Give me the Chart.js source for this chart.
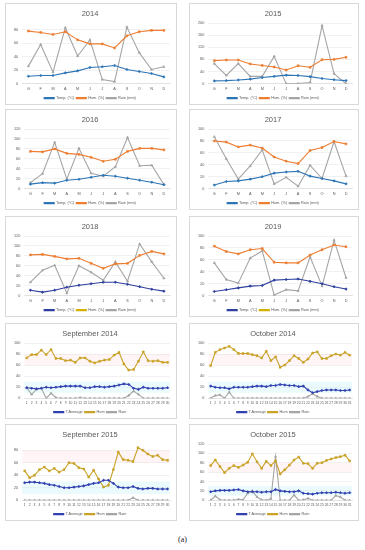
<!DOCTYPE html>
<html>
<head>
<meta charset="utf-8">
<script src="https://cdn.jsdelivr.net/npm/chart.js@4.4.0/dist/chart.umd.min.js"></script>
<style>
  body { margin: 0; background: #fff; width: 365px; height: 550px; position: relative; overflow: hidden; }
  .panel { position: absolute; border: 1px solid #d9d9d9; background: #fff; box-sizing: border-box; }
  .panel canvas { display: block; }
  #cap { position: absolute; left: 0; width: 365px; top: 535px; text-align: center; font: 8px "Liberation Serif", serif; color: #222; }
</style>
</head>
<body>
<div class="panel" id="p0"><canvas id="c0"></canvas></div>
<div class="panel" id="p1"><canvas id="c1"></canvas></div>
<div class="panel" id="p2"><canvas id="c2"></canvas></div>
<div class="panel" id="p3"><canvas id="c3"></canvas></div>
<div class="panel" id="p4"><canvas id="c4"></canvas></div>
<div class="panel" id="p5"><canvas id="c5"></canvas></div>
<div class="panel" id="p6"><canvas id="c6"></canvas></div>
<div class="panel" id="p7"><canvas id="c7"></canvas></div>
<div class="panel" id="p8"><canvas id="c8"></canvas></div>
<div class="panel" id="p9"><canvas id="c9"></canvas></div>
<div id="cap">(a)</div>
<script>
// month labels
const months = ["G", "F", "M", "A", "M", "J", "J", "A", "S", "O", "N", "D"];
const days30 = ["1","2","3","4","5","6","7","8","9","10","11","12","13","14","15","16","17","18","19","20","21","22","23","24","25","26","27","28","29","30"];
const days31 = ["1","2","3","4","5","6","7","8","9","10","11","12","13","14","15","16","17","18","19","20","21","22","23","24","25","26","27","28","29","30","31"];

// yearly series
const temp2014 = [11, 12, 12, 16, 19, 24, 25, 27, 21, 18, 15, 10];
const hum2014 = [78, 76, 73, 77, 65, 59, 59, 53, 71, 77, 79, 79];
const rain2014 = [26, 58, 17, 83, 41, 65, 6, 3, 84, 46, 21, 25];

const temp2015 = [9, 10, 12, 15, 20, 24, 28, 27, 23, 17, 13, 10];
const hum2015 = [76, 78, 78, 65, 60, 55, 45, 59, 54, 79, 80, 87];
const rain2015 = [66, 27, 66, 24, 24, 90, 0, 0, 4, 191, 33, 0];

const temp2016 = [9, 12, 11, 17, 19, 23, 27, 25, 21, 17, 13, 8];
const hum2016 = [75, 74, 80, 71, 69, 63, 55, 59, 75, 81, 81, 78];
const rain2016 = [12, 30, 93, 19, 81, 31, 25, 44, 103, 46, 47, 8];

const temp2017 = [6, 12, 13, 16, 20, 26, 28, 29, 21, 17, 13, 8];
const hum2017 = [80, 78, 70, 73, 68, 53, 46, 42, 64, 69, 79, 75];
const rain2017 = [87, 50, 16, 38, 65, 8, 19, 4, 39, 17, 79, 21];

const temp2018 = [11, 7, 11, 17, 21, 24, 27, 27, 23, 18, 13, 9];
const hum2018 = [82, 83, 79, 74, 75, 65, 55, 64, 65, 81, 89, 84];
const rain2018 = [27, 51, 61, 5, 60, 47, 31, 68, 29, 104, 68, 35];

const temp2019 = [7, 10, 13, 16, 17, 26, 27, 28, 24, 20, 15, 11];
const hum2019 = [83, 74, 70, 77, 79, 56, 55, 55, 68, 77, 85, 82];
const rain2019 = [55, 27, 21, 63, 75, 1, 10, 8, 65, 16, 93, 30];

// daily series
const tempSep14 = [19, 18, 17, 18, 20, 19, 20, 21, 22, 22, 22, 22, 19, 19, 21, 21, 20, 21, 22, 24, 26, 25, 18, 16, 20, 18, 18, 18, 18, 19];
const humSep14 = [73, 79, 79, 87, 79, 88, 72, 72, 68, 69, 65, 73, 73, 67, 64, 67, 69, 70, 78, 83, 62, 51, 52, 67, 84, 68, 67, 68, 65, 65];
const rainSep14 = [19, 7, 16, 18, 0, 9, 1, 0, 0, 0, 0, 1, 0, 0, 0, 0, 0, 0, 0, 0, 0, 5, 13, 7, 0, 0, 0, 0, 0, 0];

const tempOct14 = [22, 20, 19, 19, 17, 20, 20, 20, 20, 21, 22, 22, 21, 23, 23, 25, 24, 23, 23, 21, 22, 15, 10, 12, 14, 15, 15, 15, 14, 14, 15];
const humOct14 = [59, 83, 88, 91, 94, 88, 81, 81, 81, 79, 77, 73, 85, 68, 75, 56, 60, 68, 77, 72, 65, 71, 82, 84, 72, 72, 77, 80, 78, 83, 78];
const rainOct14 = [0, 5, 6, 0, 11, 0, 0, 0, 0, 0, 0, 0, 0, 0, 0, 0, 0, 0, 0, 0, 0, 3, 8, 3, 0, 0, 0, 0, 0, 0, 0];

const tempSep15 = [28, 29, 29, 28, 27, 25, 24, 22, 20, 20, 21, 22, 23, 25, 27, 28, 32, 32, 27, 21, 20, 20, 22, 19, 18, 19, 19, 18, 18, 18];
const humSep15 = [47, 36, 40, 49, 53, 47, 51, 45, 49, 60, 59, 52, 50, 37, 48, 34, 21, 24, 49, 77, 65, 64, 62, 84, 80, 74, 70, 72, 65, 64];
const rainSep15 = [0, 0, 0, 0, 0, 0, 0, 0, 0, 0, 0, 0, 0, 0, 0, 0, 0, 0, 0, 0, 0, 0, 4, 0, 0, 0, 0, 0, 0, 0];

const tempOct15 = [18, 20, 21, 21, 21, 22, 23, 20, 18, 18, 18, 17, 18, 18, 23, 20, 19, 18, 18, 20, 15, 14, 13, 15, 16, 16, 16, 17, 16, 15, 16];
const humOct15 = [74, 86, 72, 59, 68, 74, 70, 75, 81, 99, 82, 68, 83, 74, 84, 56, 65, 75, 86, 92, 79, 78, 68, 79, 80, 85, 88, 91, 93, 96, 84];
const rainOct15 = [0, 9, 1, 0, 0, 0, 2, 1, 15, 20, 7, 1, 0, 3, 93, 0, 0, 0, 11, 0, 1, 4, 0, 0, 0, 0, 0, 10, 7, 0, 0];

// comfort bands on the daily charts
const humBand = [60, 80];
const tempBand = [10, 30];

// panel boxes: left, top, width, height
const boxes = [
  [5, 3, 172, 102], [189, 3, 170, 102],
  [5, 109, 172, 101], [189, 109, 170, 101],
  [5, 216, 172, 101], [189, 216, 170, 101],
  [5, 323, 172, 96], [189, 323, 170, 96],
  [5, 424, 172, 97], [189, 424, 170, 97],
];
boxes.forEach(function (b, i) {
  const p = document.getElementById("p" + i);
  p.style.left = b[0] + "px";
  p.style.top = b[1] + "px";
  p.style.width = b[2] + "px";
  p.style.height = b[3] + "px";
  const c = document.getElementById("c" + i);
  c.style.width = (b[2] - 2) + "px";
  c.style.height = (b[3] - 2) + "px";
});

const FONT = "'Liberation Sans', Arial, sans-serif";
const TXT = "#595959";

// draws the shaded bands from the y scale
const bandPlugin = {
  id: "bands",
  beforeDatasetsDraw(chart, args, opts) {
    if (!opts.show) return;
    const ctx = chart.ctx;
    const a = chart.chartArea;
    const y = chart.scales.y;
    ctx.save();
    ctx.fillStyle = "rgba(255, 200, 210, 0.18)";
    let t = y.getPixelForValue(humBand[1]);
    let b = y.getPixelForValue(humBand[0]);
    ctx.fillRect(a.left, t, a.right - a.left, b - t);
    ctx.fillStyle = "rgba(190, 240, 250, 0.3)";
    t = y.getPixelForValue(tempBand[1]);
    b = y.getPixelForValue(tempBand[0]);
    ctx.fillRect(a.left, t, a.right - a.left, b - t);
    ctx.restore();
  },
};

function series(label, data, color, style) {
  return {
    label: label,
    data: data,
    borderColor: color,
    backgroundColor: color,
    borderWidth: 1.1,
    pointStyle: style,
    pointRadius: 1.3,
    pointBorderWidth: 0.6,
    tension: 0,
  };
}

function makeChart(id, title, labels, sets, yMax, yStep, daily, legendColors) {
  new Chart(document.getElementById(id), {
    type: "line",
    data: { labels: labels, datasets: sets },
    plugins: [bandPlugin],
    options: {
      responsive: true,
      maintainAspectRatio: false,
      animation: false,
      layout: { padding: { left: 4, right: 6, top: 0, bottom: -6 } },
      plugins: {
        bands: { show: daily },
        title: {
          display: true,
          text: title,
          color: TXT,
          font: { family: FONT, size: 7.5, weight: "normal" },
          padding: { top: 5, bottom: 5 },
        },
        legend: {
          position: "bottom",
          labels: {
            color: TXT,
            font: { family: FONT, size: 3.8 },
            boxWidth: 10,
            boxHeight: 1,
            padding: 2,
            generateLabels: function (chart) {
              const items = Chart.defaults.plugins.legend.labels.generateLabels(chart);
              items.forEach(function (it, k) {
                if (legendColors && legendColors[k]) {
                  it.fillStyle = legendColors[k];
                  it.strokeStyle = legendColors[k];
                }
              });
              return items;
            },
          },
        },
        tooltip: { enabled: false },
      },
      scales: {
        x: {
          offset: true,
          grid: { display: false, drawTicks: false },
          border: { color: "#d9d9d9", width: 0.6 },
          ticks: {
            color: TXT,
            font: { family: FONT, size: daily ? 3.3 : 3.8 },
            autoSkip: false,
            maxRotation: 0,
            padding: 3,
          },
        },
        y: {
          min: 0,
          max: yMax,
          grid: { color: "#e3e3e3", lineWidth: 0.5, drawTicks: false },
          border: { display: false },
          ticks: {
            stepSize: yStep,
            color: TXT,
            font: { family: FONT, size: 3.8 },
            padding: 4,
          },
        },
      },
    },
  });
}

const BLUE = "#2e75b6";
const NAVY = "#2f3f9f";
const ORANGE = "#ed7d31";
const GRAY = "#a5a5a5";
const GOLD = "#c9a227";
const DBLUE = "#3040b0";

function yearSets(t, h, r, tc) {
  return [
    series("Temp. (°C)", t, tc, "rectRot"),
    series("Hum. (%)", h, ORANGE, "rect"),
    series("Rain (mm)", r, GRAY, "triangle"),
  ];
}
function daySets(t, h, r) {
  return [
    series("T.Average", t, DBLUE, "rectRot"),
    series("Hum", h, GOLD, "rect"),
    series("Rain", r, GRAY, "triangle"),
  ];
}

makeChart("c0", "2014", months, yearSets(temp2014, hum2014, rain2014, BLUE), 90, 10, false);
makeChart("c1", "2015", months, yearSets(temp2015, hum2015, rain2015, BLUE), 200, 20, false);
makeChart("c2", "2016", months, yearSets(temp2016, hum2016, rain2016, BLUE), 120, 20, false);
makeChart("c3", "2017", months, yearSets(temp2017, hum2017, rain2017, BLUE), 100, 10, false);
makeChart("c4", "2018", months, yearSets(temp2018, hum2018, rain2018, NAVY), 120, 20, false, [null, "#d4b000", null]);
makeChart("c5", "2019", months, yearSets(temp2019, hum2019, rain2019, NAVY), 100, 10, false, [null, "#d4b000", null]);
makeChart("c6", "September 2014", days30, daySets(tempSep14, humSep14, rainSep14), 100, 20, true);
makeChart("c7", "October 2014", days31, daySets(tempOct14, humOct14, rainOct14), 100, 20, true);
makeChart("c8", "September 2015", days30, daySets(tempSep15, humSep15, rainSep15), 90, 10, true);
makeChart("c9", "October 2015", days31, daySets(tempOct15, humOct15, rainOct15), 120, 20, true);
</script>
</body>
</html>
